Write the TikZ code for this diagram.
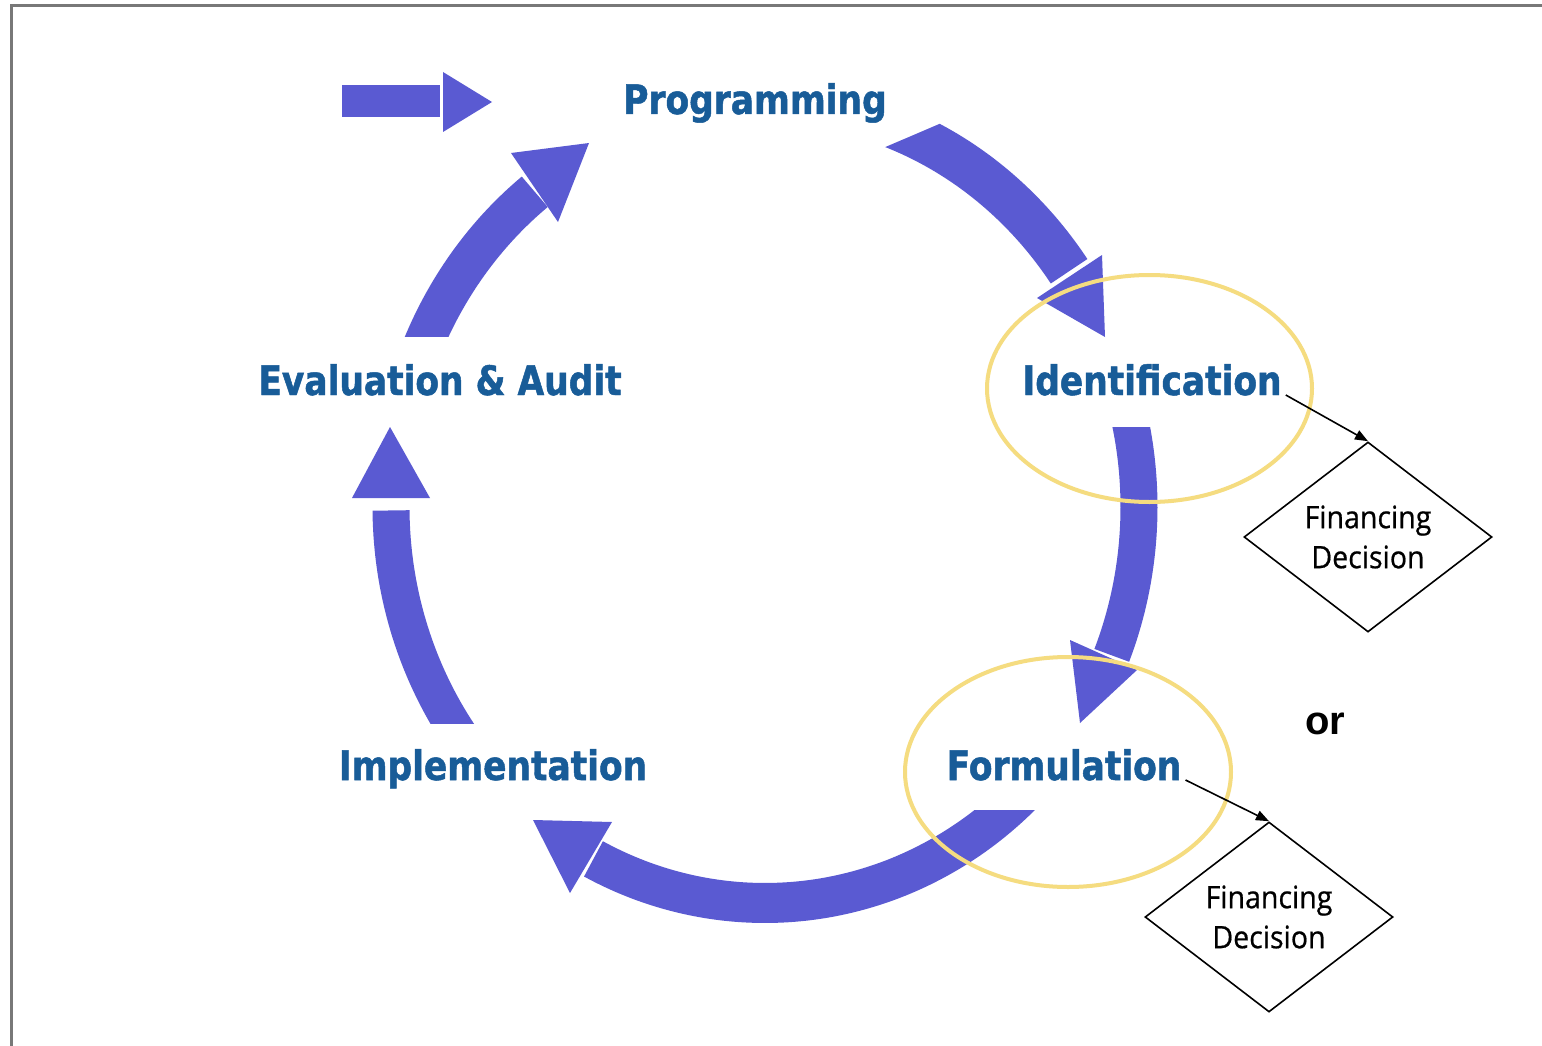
\documentclass[tikz,border=0pt]{standalone}
\usepackage{fontspec}
\newfontfamily\lblfont{DejaVu Sans}[FakeStretch=0.85, BoldFeatures={FakeBold=1.2}]
\newfontfamily\fdfont{Open Sans}[FakeStretch=0.92, FakeBold=0.6]
\newfontfamily\orfont{Liberation Sans}
\usetikzlibrary{shapes.geometric,arrows.meta}
\definecolor{bandblue}{RGB}{90,90,210}
\definecolor{lbltext}{RGB}{24,92,152}
\definecolor{hiyellow}{RGB}{245,220,128}
\definecolor{framegray}{RGB}{120,120,120}
\begin{document}
\begin{tikzpicture}[x=1pt,y=-1pt,
  stage/.style={font=\lblfont\bfseries\fontsize{40.5}{46}\selectfont, text=lbltext, inner sep=0pt, anchor=base},
  decision/.style={shape=diamond, draw=black, line width=1.6pt, shape aspect=1.3,
    minimum width=248pt, minimum height=190pt, inner sep=0pt, align=center,
    font=\fdfont\fontsize{31}{40}\selectfont},
  band/.style={draw=bandblue, line cap=butt, line join=round},
  head/.style={fill=bandblue},
  link/.style={draw=black, line width=1.6pt, -{Triangle[length=13pt,width=10pt]}},
  hilite/.style={draw=hiyellow, line width=4pt},
  orlabel/.style={font=\orfont\bfseries\fontsize{40}{44}\selectfont, text=black, inner sep=0pt, anchor=base}]
\useasboundingbox (0,0) rectangle (1542,1046);
\fill[white] (0,0) rectangle (1542,1046);
% frame
\draw[framegray, line width=3pt] (11,1046) -- (11,6) -- (1542,6);

% entry arrow
\fill[head] (342,85) -- (440,85) -- (440,117) -- (342,117) -- cycle;
\fill[head] (443,72) -- (492,102) -- (443,132) -- cycle;

% band 1: Programming -> Identification
\begin{scope}
  \clip (820,175) -- (1000,98) -- (1300,98) -- (1300,400) -- (820,400) -- cycle;
  \draw[band, line width=44pt] plot[domain=35.6:75, samples=60] ({765+374*cos(\x)}, {507-405*sin(\x)});
\end{scope}
\fill[head] (1105,337) -- (1037,298) -- (1102,255) -- cycle;

% band 2: Identification -> Formulation
\begin{scope}
  \clip (1000,427) rectangle (1250,700);
  \draw[band, line width=37pt] plot[domain=-22:16, samples=60] ({765+374*cos(\x)}, {507-396*sin(\x)});
\end{scope}
\fill[head] (1080,723) -- (1070,640) -- (1137,670) -- cycle;

% band 3: Formulation -> Implementation
\begin{scope}
  \clip (500,810) rectangle (1100,1000);
  \draw[band, line width=40pt] plot[domain=-117.3:-44, samples=80] ({765+374*cos(\x)}, {507-396*sin(\x)});
\end{scope}
\fill[head] (533,820) -- (612,822) -- (570,893) -- cycle;

% band 4: Implementation -> Evaluation
\begin{scope}
  \clip (300,723) rectangle (520,480);
  \draw[band, line width=37pt] plot[domain=180.5:222, samples=60] ({765+374*cos(\x)}, {507-396*sin(\x)});
\end{scope}
\fill[head] (390,427) -- (352,498) -- (430,498) -- cycle;

% band 5: Evaluation -> Programming
\begin{scope}
  \clip (330,336) rectangle (700,100);
  \draw[band, line width=40pt] plot[domain=128:164, samples=60] ({765+374*cos(\x)}, {507-400*sin(\x)});
\end{scope}
\fill[head] (589,143) -- (511,153) -- (558,222) -- cycle;

% stage labels
\node[stage] (prog)  at (755,114)  {Programming};
\node[stage] (ident) at (1152,395) {Identification};
\node[stage] (eval)  at (440,395)  {Evaluation \& Audit};
\node[stage] (impl)  at (493,780)  {Implementation};
\node[stage] (form)  at (1064,780) {Formulation};

% decisions
\node[decision] (fd1) at (1368,537) {Financing\\Decision};
\node[decision] (fd2) at (1269,917) {Financing\\Decision};
\node[orlabel] (or) at (1325,734) {or};

% highlight ellipses
\draw[hilite] (1149.5,388.5) ellipse [x radius=162.5pt, y radius=113.5pt];
\draw[hilite] (1068,772) ellipse [x radius=163pt, y radius=115pt];

% connectors
\draw[link] ([xshift=4pt]ident.base east) -- (fd1.north);
\draw[link] ([xshift=4pt]form.base east) -- (fd2.north);
\end{tikzpicture}
\end{document}
